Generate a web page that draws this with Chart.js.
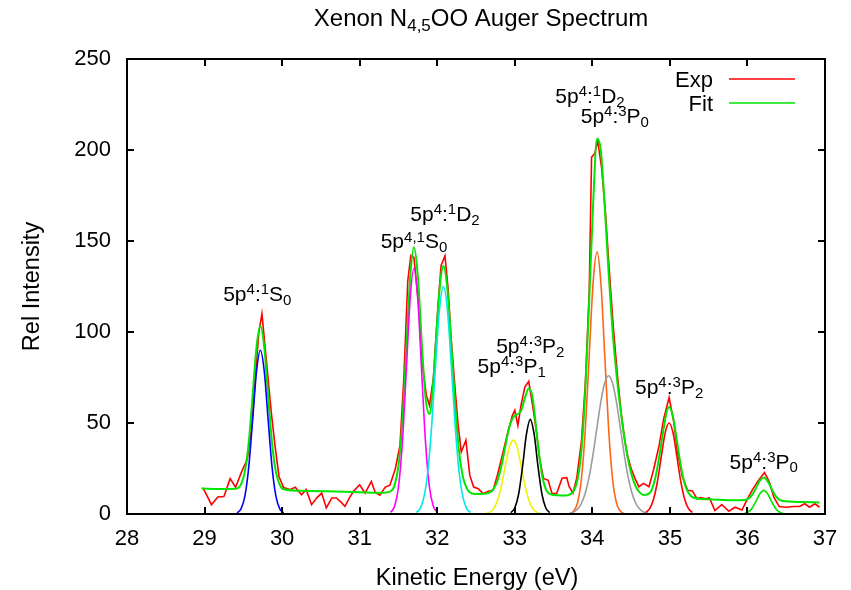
<!DOCTYPE html>
<html>
<head>
<meta charset="utf-8">
<script src="https://cdn.jsdelivr.net/npm/chart.js@4.4.1/dist/chart.umd.min.js"></script>
<style>
  html, body { margin: 0; padding: 0; background: #fff; }
</style>
</head>
<body>
<canvas id="myChart" width="851" height="590"></canvas>
<script>
// values
const xTicks = [28, 29, 30, 31, 32, 33, 34, 35, 36, 37];
const yTicks = [0, 50, 100, 150, 200, 250];

// measured spectrum
const expX = [28.98, 29.09, 29.17, 29.25, 29.33, 29.40, 29.48, 29.55, 29.61, 29.66,
  29.70, 29.74, 29.80, 29.86, 29.91, 29.96, 30.02, 30.10, 30.17, 30.25,
  30.31, 30.38, 30.45, 30.51, 30.57, 30.64, 30.70, 30.76, 30.81, 30.87,
  30.92, 31.00, 31.07, 31.15, 31.20, 31.26, 31.33, 31.39, 31.46, 31.52,
  31.57, 31.62, 31.66, 31.70, 31.76, 31.81, 31.86, 31.90, 31.95, 32.01,
  32.05, 32.10, 32.14, 32.18, 32.23, 32.27, 32.31, 32.37, 32.42, 32.47,
  32.53, 32.59, 32.66, 32.72, 32.78, 32.85, 32.91, 32.97, 33.00, 33.04,
  33.08, 33.13, 33.18, 33.23, 33.28, 33.32, 33.37, 33.43, 33.48, 33.54,
  33.61, 33.67, 33.70, 33.75, 33.80, 33.86, 33.91, 33.96, 33.99, 34.03,
  34.07, 34.12, 34.17, 34.22, 34.27, 34.32, 34.37, 34.42, 34.46, 34.50,
  34.55, 34.60, 34.66, 34.73, 34.79, 34.86, 34.92, 34.99, 35.05, 35.10,
  35.16, 35.23, 35.29, 35.35, 35.40, 35.46, 35.51, 35.58, 35.67, 35.76,
  35.84, 35.93, 35.99, 36.06, 36.13, 36.22, 36.28, 36.34, 36.41, 36.50,
  36.59, 36.67, 36.74, 36.80, 36.87, 36.93];
const expY = [14.3, 5.1, 9.3, 9.6, 19.4, 14.7, 23.4, 30, 48, 78,
  100, 110, 83, 56, 37, 20.5, 14.5, 13.4, 14.7, 10.6,
  13.4, 5.1, 9.0, 11.5, 3.3, 8.8, 8.8, 6.5, 4.2, 9.0,
  12.5, 16.1, 11.5, 17.9, 12.0, 10.3, 14.8, 15.8, 24.9, 37.7,
  75, 128, 142, 141, 114.6, 81.7, 65.2, 59.7, 74.4, 114.6,
  136.6, 141.8, 123.8, 96.3, 68.9, 48.7, 34.1, 40.5, 21.2, 14.8,
  13.9, 11.2, 12.5, 13.0, 22.0, 34.1, 45.0, 54.2, 57.0, 48.7,
  59.7, 69.8, 72.9, 59.7, 45.0, 30.4, 19.5, 18.5, 11.3, 11.3,
  19.6, 20.0, 15.2, 11.5, 20.0, 40.0, 72.0, 122.0, 196.0, 198.0,
  205.0, 190.0, 165.0, 133.0, 103.0, 78.0, 56.0, 40.0, 31.0, 25.0,
  19.6, 15.0, 16.8, 15.0, 24.3, 37.4, 52.3, 64.0, 50.5, 33.6,
  20.6, 13.0, 12.7, 8.4, 9.0, 8.4, 8.8, 1.9, 5.2, 1.5,
  3.7, 2.2, 7.5, 13.0, 17.8, 22.8, 17.8, 9.3, 4.1, 3.7,
  4.1, 4.1, 5.6, 3.7, 5.6, 3.7];

// total fit
const fitX = [28.96, 29.20, 29.40, 29.47, 29.52, 29.57, 29.62, 29.67, 29.72, 29.77,
  29.82, 29.87, 29.92, 29.97, 30.02, 30.30, 30.70, 31.00, 31.30, 31.40,
  31.45, 31.50, 31.55, 31.60, 31.65, 31.70, 31.75, 31.80, 31.85, 31.90,
  31.95, 32.00, 32.04, 32.08, 32.13, 32.18, 32.23, 32.28, 32.33, 32.38,
  32.45, 32.55, 32.63, 32.68, 32.73, 32.78, 32.83, 32.88, 32.93, 32.98,
  33.03, 33.08, 33.13, 33.18, 33.22, 33.25, 33.30, 33.35, 33.40, 33.45,
  33.55, 33.65, 33.71, 33.76, 33.81, 33.86, 33.91, 33.96, 34.01, 34.06,
  34.11, 34.16, 34.21, 34.26, 34.31, 34.36, 34.41, 34.46, 34.51, 34.56,
  34.61, 34.66, 34.71, 34.76, 34.81, 34.86, 34.91, 34.96, 34.99, 35.04,
  35.09, 35.14, 35.19, 35.24, 35.30, 35.50, 35.80, 35.96, 36.01, 36.06,
  36.11, 36.16, 36.21, 36.26, 36.31, 36.36, 36.41, 36.46, 36.70, 36.93];
const fitY = [14.0, 13.8, 13.9, 16.3, 23.3, 39.3, 65.1, 91.7, 103.3, 91.6,
  65.0, 39.1, 23.0, 16.0, 13.6, 12.7, 12.3, 12.0, 11.7, 12.5,
  15.8, 26.3, 50.3, 89.1, 129.1, 146.5, 130.6, 94.6, 63.7, 55.0,
  73.0, 106.0, 127.8, 136.3, 124.0, 94.0, 60.5, 35.1, 20.7, 14.2,
  11.3, 11.0, 11.2, 11.9, 14.0, 18.7, 26.9, 37.7, 47.8, 53.2,
  54.8, 56.5, 63.7, 68.9, 66.0, 57.4, 37.5, 21.8, 13.7, 11.1,
  10.3, 10.2, 10.8, 12.7, 19.0, 35.3, 68.4, 117.8, 170.0, 206.0,
  199.5, 169.0, 132.4, 101.1, 77.5, 58.6, 42.8, 30.0, 21.0, 15.1,
  11.9, 10.5, 10.7, 12.8, 19.5, 30.7, 44.4, 56.3, 58.8, 53.5,
  40.5, 26.7, 16.8, 11.5, 9.1, 8.1, 7.6, 7.7, 8.4, 10.5,
  14.2, 18.3, 20.0, 18.1, 14.0, 10.1, 7.9, 7.1, 6.6, 6.3];

// fitted components
const blueX = [29.42, 29.47, 29.52, 29.57, 29.62, 29.67, 29.72, 29.77, 29.82, 29.87, 29.92, 29.97, 30.02];
const blueY = [0.6, 2.8, 9.8, 25.9, 51.7, 78.4, 90, 78.4, 51.7, 25.9, 9.8, 2.8, 0.6];
const magentaX = [31.40, 31.45, 31.50, 31.55, 31.60, 31.65, 31.70, 31.75, 31.80, 31.85, 31.90, 31.95, 32.00];
const magentaY = [0.9, 4.2, 14.7, 38.8, 77.6, 117.6, 135, 117.6, 77.6, 38.8, 14.7, 4.2, 0.9];
const cyanX = [31.73, 31.78, 31.83, 31.88, 31.93, 31.98, 32.03, 32.08, 32.13, 32.18, 32.23, 32.28, 32.33, 32.38, 32.43];
const cyanY = [0.8, 3.0, 9.5, 23.9, 49.3, 82.7, 112.8, 125, 112.8, 82.7, 49.3, 23.9, 9.5, 3.0, 0.8];
const yellowX = [32.63, 32.68, 32.73, 32.78, 32.83, 32.88, 32.93, 32.98, 33.03, 33.08, 33.13, 33.18, 33.23, 33.28, 33.33];
const yellowY = [0.3, 1.0, 3.1, 7.8, 16.0, 26.8, 36.6, 40.6, 36.6, 26.8, 16.0, 7.8, 3.1, 1.0, 0.3];
const blackX = [32.95, 33.00, 33.05, 33.10, 33.15, 33.20, 33.25, 33.30, 33.35, 33.40, 33.45];
const blackY = [0.7, 3.3, 11.0, 26.0, 43.7, 52, 43.7, 26.0, 11.0, 3.3, 0.7];
const orangeX = [33.71, 33.76, 33.81, 33.86, 33.91, 33.96, 34.01, 34.06, 34.11, 34.16, 34.21, 34.26, 34.31, 34.36, 34.41];
const orangeY = [0.3, 1.6, 6.3, 19.5, 46.8, 87.3, 127.1, 144, 127.1, 87.3, 46.8, 19.5, 6.3, 1.6, 0.3];
const grayX = [33.71, 33.76, 33.81, 33.86, 33.91, 33.96, 34.01, 34.06, 34.11, 34.16, 34.21,
  34.26, 34.31, 34.36, 34.41, 34.46, 34.51, 34.56, 34.61, 34.66, 34.71];
const grayY = [0.4, 1.1, 2.7, 5.9, 11.7, 20.7, 33.1, 47.6, 61.7, 72.1, 76,
  72.1, 61.7, 47.6, 33.1, 20.7, 11.7, 5.9, 2.7, 1.1, 0.4];
const redX = [34.69, 34.74, 34.79, 34.84, 34.89, 34.94, 34.99, 35.04, 35.09, 35.14, 35.19, 35.24, 35.29];
const redY = [0.8, 2.9, 8.2, 18.0, 31.8, 44.7, 50, 44.7, 31.8, 18.0, 8.2, 2.9, 0.8];
const greenX = [35.96, 36.01, 36.06, 36.11, 36.16, 36.21, 36.26, 36.31, 36.36, 36.41, 36.46];
const greenY = [0.3, 1.1, 3.2, 7.0, 11.1, 13, 11.1, 7.0, 3.2, 1.1, 0.3];

// peak labels: [text, kind] pieces, anchored in data coordinates
const peakLabels = [
  { at: [29.68, 117], parts: [['5p', 'n'], ['4', 'sup'], [':', 'n'], ['1', 'sup'], ['S', 'n'], ['0', 'sub']] },
  { at: [31.70, 146], parts: [['5p', 'n'], ['4,1', 'sup'], ['S', 'n'], ['0', 'sub']] },
  { at: [32.10, 161], parts: [['5p', 'n'], ['4', 'sup'], [':', 'n'], ['1', 'sup'], ['D', 'n'], ['2', 'sub']] },
  { at: [33.20, 88.5], parts: [['5p', 'n'], ['4', 'sup'], [':', 'n'], ['3', 'sup'], ['P', 'n'], ['2', 'sub']] },
  { at: [32.96, 77.5], parts: [['5p', 'n'], ['4', 'sup'], [':', 'n'], ['3', 'sup'], ['P', 'n'], ['1', 'sub']] },
  { at: [33.97, 226], parts: [['5p', 'n'], ['4', 'sup'], [':', 'n'], ['1', 'sup'], ['D', 'n'], ['2', 'sub']] },
  { at: [34.29, 215], parts: [['5p', 'n'], ['4', 'sup'], [':', 'n'], ['3', 'sup'], ['P', 'n'], ['0', 'sub']] },
  { at: [34.99, 66], parts: [['5p', 'n'], ['4', 'sup'], [':', 'n'], ['3', 'sup'], ['P', 'n'], ['2', 'sub']] },
  { at: [36.21, 25], parts: [['5p', 'n'], ['4', 'sup'], [':', 'n'], ['3', 'sup'], ['P', 'n'], ['0', 'sub']] }
];

const FONT = '"Liberation Sans", Arial, Helvetica, sans-serif';

function zip(xs, ys) {
  return xs.map((x, i) => ({ x: x, y: ys[i] }));
}

function series(label, xs, ys, color, width, order, smooth) {
  return {
    label: label,
    data: zip(xs, ys),
    borderColor: color,
    backgroundColor: color,
    borderWidth: width,
    pointRadius: 0,
    fill: false,
    order: order,
    tension: 0,
    cubicInterpolationMode: smooth ? 'monotone' : 'default'
  };
}

const datasets = [
  series('Exp', expX, expY, '#ff0000', 1.6, 20, false),
  series('Fit', fitX, fitY, '#00e600', 2, 19, true),
  series('c1', blueX, blueY, '#0000ff', 1.6, 18, true),
  series('c2', magentaX, magentaY, '#ff00ff', 1.6, 17, true),
  series('c3', cyanX, cyanY, '#00e8e8', 1.6, 16, true),
  series('c4', yellowX, yellowY, '#f2f200', 1.6, 15, true),
  series('c5', blackX, blackY, '#000000', 1.6, 14, true),
  series('c6', orangeX, orangeY, '#ff6414', 1.6, 13, true),
  series('c7', grayX, grayY, '#9c9c9c', 1.6, 12, true),
  series('c8', redX, redY, '#ff0000', 1.6, 11, true),
  series('c9', greenX, greenY, '#00e600', 1.6, 10, true)
];

// draws text made of normal / superscript / subscript pieces, centred on cx
function richText(ctx, parts, cx, baseY, size) {
  const small = Math.round(size * 0.72);
  let w = 0;
  parts.forEach(([t, k]) => {
    ctx.font = (k === 'n' ? size : small) + 'px ' + FONT;
    w += ctx.measureText(t).width;
  });
  let x = cx - w / 2;
  parts.forEach(([t, k]) => {
    ctx.font = (k === 'n' ? size : small) + 'px ' + FONT;
    const dy = k === 'sup' ? -size * 0.32 : (k === 'sub' ? size * 0.19 : 0);
    ctx.fillText(t, x, baseY + dy);
    x += ctx.measureText(t).width;
  });
}

const decorations = {
  id: 'decorations',
  afterDraw(chart) {
    const { ctx, chartArea: a, scales: { x, y } } = chart;
    ctx.save();
    // frame and inward ticks on all four sides
    ctx.strokeStyle = '#000';
    ctx.lineWidth = 2;
    ctx.beginPath();
    xTicks.forEach(v => {
      const px = Math.round(x.getPixelForValue(v));
      ctx.moveTo(px, a.bottom); ctx.lineTo(px, a.bottom - 7);
      ctx.moveTo(px, a.top); ctx.lineTo(px, a.top + 7);
    });
    yTicks.forEach(v => {
      const py = Math.round(y.getPixelForValue(v));
      ctx.moveTo(a.left, py); ctx.lineTo(a.left + 7, py);
      ctx.moveTo(a.right, py); ctx.lineTo(a.right - 7, py);
    });
    ctx.stroke();
    ctx.strokeRect(a.left, a.top, a.right - a.left, a.bottom - a.top);

    ctx.fillStyle = '#000';
    ctx.textBaseline = 'alphabetic';
    ctx.textAlign = 'left';

    // title
    richText(ctx, [['Xenon N', 'n'], ['4,5', 'sub'], ['OO Auger Spectrum', 'n']], 481, 26, 24);

    // axis titles
    ctx.font = '23.5px ' + FONT;
    ctx.textAlign = 'center';
    ctx.fillText('Kinetic Energy (eV)', 477, 585);
    ctx.save();
    ctx.translate(39, (a.top + a.bottom) / 2);
    ctx.rotate(-Math.PI / 2);
    ctx.fillText('Rel Intensity', 0, 0);
    ctx.restore();

    // peak labels
    ctx.textAlign = 'left';
    peakLabels.forEach(l => {
      richText(ctx, l.parts, x.getPixelForValue(l.at[0]), y.getPixelForValue(l.at[1]), 21);
    });

    // key, text right aligned with a line sample to its right
    ctx.font = '22px ' + FONT;
    ctx.textAlign = 'right';
    chart.data.datasets.slice(0, 2).forEach((ds, i) => {
      const ly = 79 + i * 24;
      ctx.fillText(ds.label, 713, ly + 8);
      ctx.strokeStyle = ds.borderColor;
      ctx.lineWidth = 1.6;
      ctx.beginPath();
      ctx.moveTo(729, ly);
      ctx.lineTo(795, ly);
      ctx.stroke();
    });
    ctx.restore();
  }
};

const tickFont = { family: FONT, size: 22 };

const myChart = new Chart(document.getElementById('myChart'), {
  type: 'line',
  data: { datasets: datasets },
  options: {
    responsive: false,
    animation: false,
    devicePixelRatio: 1,
    layout: { padding: { top: 59, right: 26, left: 0, bottom: 0 } },
    plugins: {
      legend: { display: false },
      title: { display: false },
      tooltip: { enabled: false }
    },
    scales: {
      x: {
        type: 'linear',
        min: 28,
        max: 37,
        grid: { display: false, drawTicks: false },
        border: { display: false },
        afterBuildTicks: axis => { axis.ticks = xTicks.map(v => ({ value: v })); },
        afterFit: axis => { axis.height = 76; },
        ticks: { autoSkip: false, maxRotation: 0, padding: 12, color: '#000', font: tickFont }
      },
      y: {
        type: 'linear',
        min: 0,
        max: 250,
        grid: { display: false, drawTicks: false },
        border: { display: false },
        afterBuildTicks: axis => { axis.ticks = yTicks.map(v => ({ value: v })); },
        afterFit: axis => { axis.width = 127; },
        ticks: { padding: 16, color: '#000', font: tickFont }
      }
    }
  },
  plugins: [decorations]
});
</script>
</body>
</html>
